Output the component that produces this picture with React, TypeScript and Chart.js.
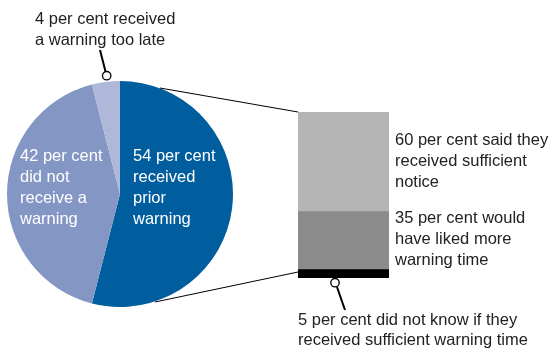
import React, { useEffect, useRef } from "react";
import { Chart, registerables } from "chart.js";

Chart.register(...registerables);

const pieCategories = ["received prior warning", "did not receive a warning", "received a warning too late"];
const pieValues = [54, 42, 4];
const pieColors = ["#005d9e", "#8496c4", "#b0b8da"];

const barCategories = ["did not know", "would have liked more warning time", "received sufficient notice"];
const barValues = [5, 35, 60];
const barColors = ["#000000", "#8c8c8c", "#b5b5b5"];

const FONT = "'Liberation Sans', Arial, sans-serif";

const labelStyle = (left: number, top: number, color: string): React.CSSProperties => ({
  position: "absolute",
  left,
  top,
  color,
  fontFamily: FONT,
  fontSize: "16.5px",
  lineHeight: "21px",
  whiteSpace: "nowrap",
});

export default function App() {
  const pieRef = useRef<HTMLCanvasElement>(null);
  const barRef = useRef<HTMLCanvasElement>(null);

  useEffect(() => {
    document.body.style.margin = "0";
    const pie = new Chart(pieRef.current!, {
      type: "pie",
      data: {
        labels: pieCategories,
        datasets: [{ data: pieValues, backgroundColor: pieColors, borderWidth: 0 }],
      },
      options: {
        responsive: false,
        animation: false,
        layout: { padding: 0 },
        plugins: { legend: { display: false }, tooltip: { enabled: false } },
      },
    });
    const bar = new Chart(barRef.current!, {
      type: "bar",
      data: {
        labels: ["warning"],
        datasets: barValues.map((v, i) => ({
          label: barCategories[i],
          data: [v],
          backgroundColor: barColors[i],
          borderWidth: 0,
          barPercentage: 1,
          categoryPercentage: 1,
        })),
      },
      options: {
        responsive: false,
        animation: false,
        layout: { padding: 0 },
        scales: {
          x: { stacked: true, display: false },
          y: { stacked: true, display: false, min: 0, max: 100 },
        },
        plugins: { legend: { display: false }, tooltip: { enabled: false } },
      },
    });
    return () => {
      pie.destroy();
      bar.destroy();
    };
  }, []);

  return (
    <div style={{ position: "relative", width: 551, height: 349, background: "#fff", overflow: "hidden" }}>
      <canvas ref={pieRef} width={226} height={226} style={{ position: "absolute", left: 7, top: 81, width: 226, height: 226 }} />
      <canvas ref={barRef} width={91} height={166} style={{ position: "absolute", left: 298, top: 112, width: 91, height: 166 }} />
      <svg width={551} height={349} style={{ position: "absolute", left: 0, top: 0, pointerEvents: "none" }}>
        <line x1={160} y1={88} x2={298} y2={112} stroke="#000" strokeWidth={1} />
        <line x1={155} y1={302} x2={298} y2={272} stroke="#000" strokeWidth={1} />
        <line x1={100} y1={50} x2={105.5} y2={71.5} stroke="#000" strokeWidth={2} />
        <circle cx={106.7} cy={75.7} r={4.2} fill="#fff" stroke="#000" strokeWidth={1.3} />
        <line x1={337} y1={287} x2={345} y2={310} stroke="#000" strokeWidth={2} />
        <circle cx={335} cy={282.7} r={4.2} fill="#fff" stroke="#000" strokeWidth={1.3} />
      </svg>
      <div style={labelStyle(35, 8, "#222")}>4 per cent received<br />a warning too late</div>
      <div style={labelStyle(20, 144.5, "#fff")}>42 per cent<br />did not<br />receive a<br />warning</div>
      <div style={labelStyle(133, 144.5, "#fff")}>54 per cent<br />received<br />prior<br />warning</div>
      <div style={labelStyle(395, 129, "#222")}>60 per cent said they<br />received sufficient<br />notice</div>
      <div style={labelStyle(395, 207, "#222")}>35 per cent would<br />have liked more<br />warning time</div>
      <div style={{ ...labelStyle(298, 309, "#222"), lineHeight: "20px" }}>5 per cent did not know if they<br />received sufficient warning time</div>
    </div>
  );
}
